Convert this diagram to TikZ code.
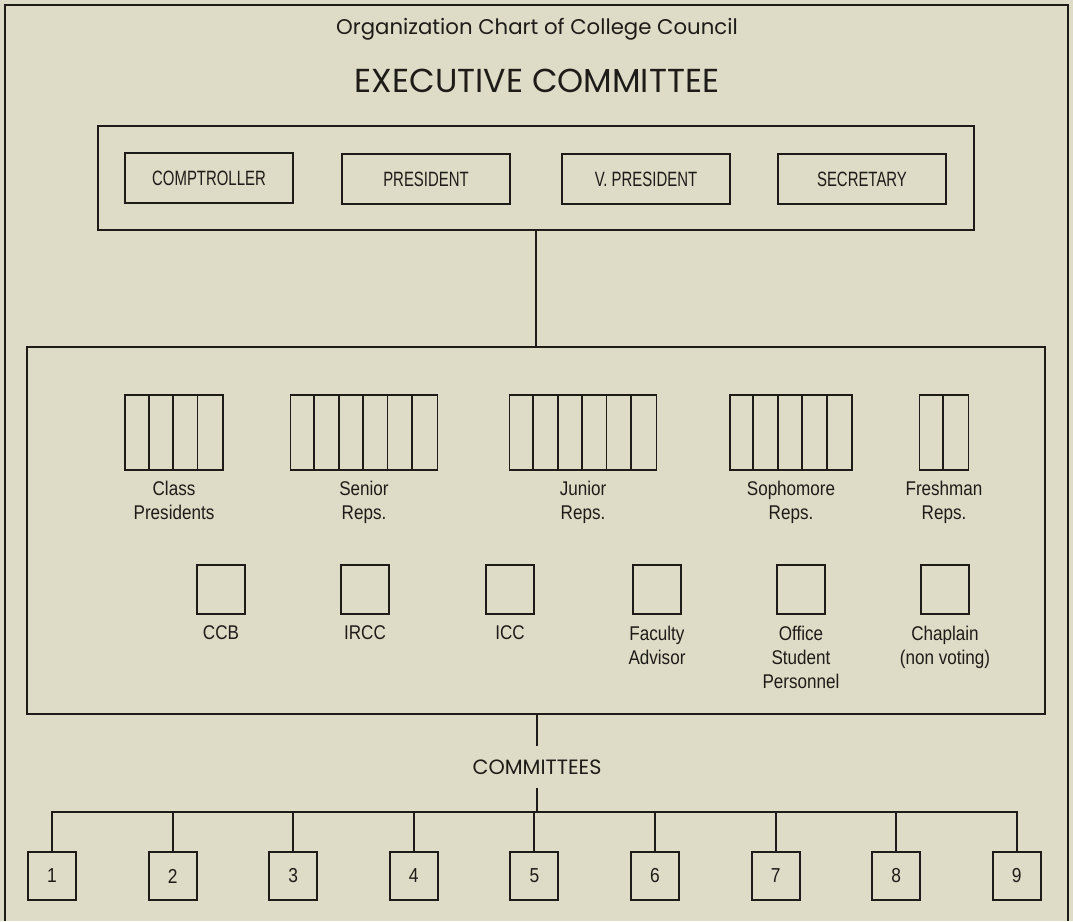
\documentclass[tikz,border=0pt]{standalone}
\usepackage{fontspec}
\newfontfamily\headfont{Poppins}
\newfontfamily\boxfont[FakeStretch=0.72]{Liberation Sans}
\newfontfamily\lblfont[FakeStretch=0.86]{Liberation Sans}
\definecolor{paper}{RGB}{222,220,198}
\definecolor{ink}{RGB}{30,28,24}
\tikzset{
  frame/.style={draw=ink, line width=1.1pt},
  office/.style={frame, minimum width=3.36cm, minimum height=1cm, inner sep=0pt,
    font={\boxfont\fontsize{11.8}{13}\selectfont}},
  seat/.style={frame, minimum width=0.96cm, minimum height=0.98cm, inner sep=0pt},
  group/.style={frame, minimum height=1.5cm, inner sep=0pt},
  cmte/.style={frame, minimum width=0.96cm, minimum height=0.96cm, inner sep=0pt,
    font={\lblfont\fontsize{11.5}{13}\selectfont}},
  lbl/.style={anchor=north, align=center, inner sep=0pt,
    font={\lblfont\fontsize{11.3}{13.6}\selectfont}},
}
\begin{document}
\begin{tikzpicture}[x=0.02cm, y=-0.02cm, color=ink, line width=1.1pt]
    \fill[paper] (0,0) rectangle (1073,921);
    \useasboundingbox (0,0) rectangle (1073,921);
    \draw (5,921) -- (5,5) -- (1068,5) -- (1068,921);
    \node [font={\headfont\fontsize{12.1}{14}\selectfont}] (chart) at (537,29) {Organization Chart of College Council};
    \node [font={\headfont\fontsize{18.9}{22}\selectfont}] (exectitle) at (537,81) {EXECUTIVE COMMITTEE};
    % executive committee
    \node [frame, minimum width=17.52cm, minimum height=2.08cm] (exec) at (536,178) {};
    \node [office] (comptroller) at (209,178) {COMPTROLLER};
    \node [office] (president) at (426,179) {PRESIDENT};
    \node [office] (vpresident) at (646,179) {V. PRESIDENT};
    \node [office] (secretary) at (862,179) {SECRETARY};
    % council
    \node [frame, minimum width=20.36cm, minimum height=7.34cm] (council) at (536,530.5) {};
    \draw (exec.south) -- (exec.south |- council.north);
    \foreach \g/\x/\n/\txt in {classpres/174/4/{Class\\Presidents}, senior/364/6/{Senior\\Reps.},
        junior/583/6/{Junior\\Reps.}, sophomore/791/5/{Sophomore\\Reps.}, freshman/944/2/{Freshman\\Reps.}} {
      \node [group, minimum width=\n*0.49cm] (\g) at (\x,432.5) {};
      \pgfmathtruncatemacro{\last}{\n-1}
      \foreach \k in {1,...,\last}
        \draw ([xshift=\k*0.49cm]\g.north west) -- ([xshift=\k*0.49cm]\g.south west);
      \node [lbl] (\g-lbl) at (\x,480) {\txt};
    }
    \foreach \s/\x/\txt in {ccb/221/CCB, ircc/365/IRCC, icc/510/ICC, faculty/657/{Faculty\\Advisor},
        office/801/{Office\\Student\\Personnel}, chaplain/945/{Chaplain\\(non voting)}} {
      \node [seat] (\s) at (\x,589.5) {};
      \node [lbl] (\s-lbl) at (\x,625) {\txt};
    }
    % committees
    \node [font={\headfont\fontsize{11.8}{13}\selectfont}, inner sep=7pt] (committees) at (537,767) {COMMITTEES};
    \draw (council.south -| committees) -- (committees.north);
    \coordinate (bus) at (537,812);
    \draw (committees.south) -- (bus);
    \foreach \i in {1,...,9} {
      \node [cmte] (c\i) at ({52+120.6*(\i-1)},876) {\i};
    }
    \draw (c1.north) |- (bus) -| (c9.north);
    \foreach \i in {2,...,8}
      \draw (c\i.north) -- (c\i.north |- bus);
  \end{tikzpicture}
\end{document}
